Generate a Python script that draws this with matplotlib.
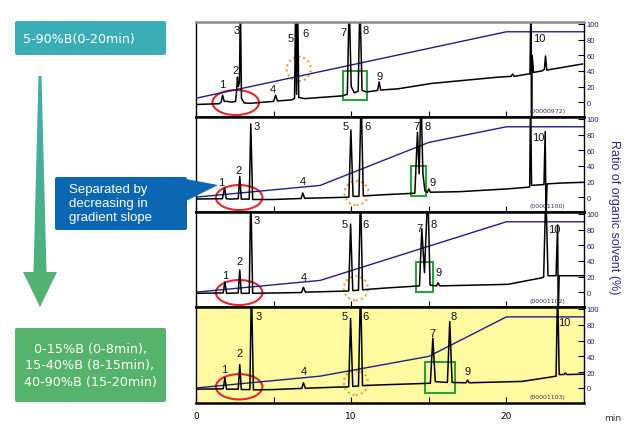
import numpy as np
import matplotlib
matplotlib.use('Agg')
import matplotlib.pyplot as plt
from matplotlib.patches import Ellipse, Rectangle, Polygon, FancyBboxPatch

plt.rcParams['font.family'] = ['DejaVu Sans']

# ---- chromatogram traces (time in min, signal in right-axis units; 130 = off scale)
trace1_t = [0, 1.5, 1.62, 1.71, 1.82, 2.0, 2.3, 2.55, 2.62, 2.67, 2.72, 2.80, 2.86, 2.93, 3.1, 3.5,
            5.0, 5.13, 5.25, 6.2, 6.35, 6.42, 6.48, 6.55, 6.62, 7.0, 9.4, 9.75, 9.87, 10.0, 10.2,
            10.45, 10.56, 10.7, 11.0, 11.7, 11.8, 11.9, 13.0, 15.2, 19.5, 20.3, 20.4, 20.5, 21.4,
            21.52, 21.58, 21.62, 21.66, 21.75, 22.3, 22.45, 22.52, 22.6, 24.9]
trace1_y = [-3, -2, 0, 9, 1, 1, 0, 1, 15, 32, 20, 25, 130, 5, -1, -1.5,
            1, 9, 1.5, 3, 5, 130, 10, 130, 6, 4.5, 8, 10, 130, 20, 12,
            14, 130, 15, 13, 15, 26, 15.5, 17, 24, 32, 33, 36, 33, 36,
            36, 130, -40, 60, 38, 40, 42, 59, 41, 48.8]

trace2_t = [0, 1.7, 1.84, 1.95, 2.2, 2.72, 2.82, 2.92, 3.43, 3.53, 3.65, 5.0, 6.78, 6.88, 7.0,
            9.0, 9.85, 9.98, 10.12, 10.5, 10.64, 10.78, 12, 14.1, 14.27, 14.38, 14.5, 14.62,
            14.75, 14.9, 15.0, 15.1, 17, 20.1, 21.4, 21.5, 21.56, 21.62, 22.3, 22.42, 22.5,
            22.55, 22.62, 23.5, 25]
trace2_y = [-2.4, -2, 12, -2, -2.5, -2, 26.5, -2.5, -2.5, 93.5, -3, -3, -1.7, 5.3, -1.5,
            -0.5, 0, 86, 1, 1, 130, 1.5, 3, 5, 83, 30, 130, 30,
            8, 6, 10.5, 6.3, 7, 10.6, 12.7, 13, 130, 15, 16, 16, 84,
            -30, 17, 18, 19]

trace3_t = [0, 1.75, 1.86, 1.97, 2.72, 2.82, 2.92, 3.43, 3.53, 3.65, 6.8, 6.92, 7.05, 9.0,
            9.84, 9.96, 10.1, 10.47, 10.6, 10.73, 12, 14.4, 14.55, 14.72, 14.94, 15.08, 15.5,
            15.6, 15.7, 18, 20.1, 22.2, 22.4, 22.54, 22.68, 23.2, 23.3, 23.34, 23.4, 25]
trace3_y = [-1.5, -1, 13, -1.5, -1, 28.3, -1.5, -1.5, 130, -1.5, -0.5, 6.2, 0, 1,
            1.5, 87, 2, 2.5, 130, 3, 5, 8, 81, 25, 130, 9, 8,
            12, 8, 9, 10, 18, 19, 130, 21, 21, 86, -30, 21, 21]

trace4_t = [0, 1.75, 1.86, 1.97, 2.72, 2.82, 2.92, 3.47, 3.57, 3.7, 5, 6.82, 6.92, 7.05, 9.0,
            9.84, 9.96, 10.1, 10.47, 10.6, 10.73, 12, 15.1, 15.26, 15.42, 16.2, 16.35, 16.5,
            17.4, 17.5, 17.6, 21, 22.9, 23.2, 23.3, 23.4, 23.7, 23.8, 23.9, 25]
trace4_y = [-1.5, -1, 13, -1.5, -1.5, 29.6, -2, -2, 130, -2.4, -2, -0.5, 6.6, -0.3, 1,
            1.5, 88, 2, 2.5, 130, 3, 4, 6, 63, 8, 7, 84, 7,
            6.6, 10, 6.6, 8.3, 14, 15, 130, 17, 17, 19, 17, 17.5]

# ---- gradient programs (% organic solvent)
grad1_t = [0, 20, 25]
grad1_p = [5, 90, 90]
grad2_t = [0, 8, 15, 20, 25]
grad2_p = [0, 15, 70, 90, 90]
grad3_t = [0, 8, 20, 25]
grad3_p = [0, 15, 90, 90]
grad4_t = [0, 8, 15, 20, 25]
grad4_p = [0, 15, 40, 90, 90]

# ---- peak labels (time, height)
peak_names = ['1', '2', '3', '4', '5', '6', '7', '8', '9', '10']
lab1_t = [1.67, 2.54, 2.65, 4.96, 6.13, 7.03, 9.49, 10.9, 11.82, 22.1]
lab1_y = [23, 41.5, 92.7, 16.8, 81.6, 88.4, 89.3, 92.7, 33.8, 82]
lab2_t = [1.65, 2.73, 3.89, 6.88, 9.66, 11.07, 14.19, 14.91, 15.26, 22.05]
lab2_y = [19.8, 35.2, 90.6, 21, 91.4, 90.6, 91.4, 90.6, 19.8, 76.5]
lab3_t = [1.86, 2.82, 3.89, 6.92, 9.57, 10.93, 14.4, 15.28, 15.6, 23.06]
lab3_y = [22.3, 39.4, 92.7, 19.7, 87, 87, 81.7, 87, 25.4, 80.8]
lab4_t = [1.79, 2.82, 4.04, 6.92, 9.59, 10.93, 15.26, 16.6, 17.48, 23.72]
lab4_y = [24.5, 43.7, 90.6, 21, 90.6, 90.6, 69.3, 90.6, 21, 83.7]

# ---- marked regions: red ellipse (t, y), orange circle (t, y), green box (t0, t1, y0, y1)
red_t = [2.56, 2.78, 2.78, 2.78]
red_y = [-0.5, -0.5, -0.5, 1.5]
orange_t = [6.62, 10.34, 10.3, 10.3]
orange_y = [42.4, 5.3, 4.9, 6.6]
green_box = [(9.44, 11.05, 2.7, 39.4), (13.87, 14.83, 2.0, 40.3),
             (14.15, 15.26, 0.0, 39.0), (14.74, 16.71, -6.6, 32.5)]

sample_ids = ['(00000972)', '(00001100)', '(00001102)', '(00001103)']

traces = [(trace1_t, trace1_y), (trace2_t, trace2_y), (trace3_t, trace3_y), (trace4_t, trace4_y)]
grads = [(grad1_t, grad1_p), (grad2_t, grad2_p), (grad3_t, grad3_p), (grad4_t, grad4_p)]
labels = [(lab1_t, lab1_y), (lab2_t, lab2_y), (lab3_t, lab3_y), (lab4_t, lab4_y)]

W, H = 630, 435
navy = '#1e1e8c'
fig = plt.figure(figsize=(W / 100, H / 100), dpi=100)

tops = [23, 118, 213, 308]
bottoms = [118, 213, 308, 404]
for i in range(4):
    ax = fig.add_axes([196 / W, 1 - bottoms[i] / H, 388 / W, (bottoms[i] - tops[i]) / H])
    ax.set_xlim(0, 25)
    ax.set_ylim(-19, 102.5)
    if i == 3:
        ax.set_facecolor('#fffaa0')
    ax.plot(grads[i][0], grads[i][1], color=navy, lw=1.0)
    ax.plot(traces[i][0], traces[i][1], color='black', lw=1.1)
    for name, t, y in zip(peak_names, labels[i][0], labels[i][1]):
        ax.text(t, y, name, fontsize=8, ha='center', va='center', color='#111111',
                family='Liberation Sans')
    ax.add_patch(Ellipse((red_t[i], red_y[i]), 3.0, 32, fill=False, ec='#e8262a', lw=1.5))
    ax.add_patch(Ellipse((orange_t[i], orange_y[i]), 1.55, 31, fill=False, ec='#f39a3c',
                         lw=1.5, ls=(0, (1, 1.5))))
    t0, t1, y0, y1 = green_box[i]
    ax.add_patch(Rectangle((t0, y0), t1 - t0, y1 - y0, fill=False, ec='#2e9e3e', lw=1.5))
    ax.text(0.905, 0.045, sample_ids[i], transform=ax.transAxes, fontsize=4.5,
            ha='center', va='bottom', color='#333355')

    ax.yaxis.tick_right()
    ax.set_yticks([0, 20, 40, 60, 80, 100])
    ax.tick_params(axis='y', direction='in', length=4, color='black', labelcolor=navy,
                   labelsize=5.5, pad=2)
    for lab in ax.get_yticklabels():
        lab.set_family('Liberation Sans')
    ax.set_xticks([0, 5, 10, 15, 20])
    ax.tick_params(axis='x', direction='in', length=4, labelsize=6.5, pad=6)
    if i == 3:
        ax.set_xticklabels(['0', '', '10', '', '20'])
    else:
        ax.set_xticklabels([])
    for s in ['left', 'right']:
        ax.spines[s].set_linewidth(1.0)
    ax.spines['bottom'].set_linewidth(1.8)
    ax.spines['top'].set_linewidth(1.8)
    if i == 0:
        ax.spines['top'].set_color('#8c8c8c')

fig.text(613 / W, 1 - 419 / H, 'min', fontsize=6.5, ha='center', va='center', color='#333333')
fig.text(614 / W, 1 - 217 / H, 'Ratio of organic solvent (%)', rotation=-90, fontsize=9,
         ha='center', va='center', color='#2a2a9a', family='Liberation Sans')

# ---- overlay for the left annotations, in pixel coordinates
ov = fig.add_axes([0, 0, 1, 1], zorder=5)
ov.set_xlim(0, W)
ov.set_ylim(H, 0)
ov.axis('off')

teal = np.array([0x3b, 0xad, 0xb5]) / 255
green = np.array([0x55, 0xb3, 0x6b]) / 255
ov.add_patch(FancyBboxPatch((15, 22), 151, 34, boxstyle='round,pad=0,rounding_size=2',
                            fc=teal, ec='none'))
ov.text(23, 40, '5-90%B(0-20min)', fontsize=9.1, color='white', ha='left', va='center')

ov.add_patch(FancyBboxPatch((15, 329), 151, 74, boxstyle='round,pad=0,rounding_size=2',
                            fc=green, ec='none'))
ov.text(90, 366, '0-15%B (0-8min),\n15-40%B (8-15min),\n40-90%B (15-20min)', fontsize=9.2,
        color='white', ha='center', va='center', linespacing=1.38)

arrow = Polygon([(38.5, 77), (41.5, 77), (46.5, 273), (57, 273), (40, 308), (23, 273),
                 (33.5, 273)], closed=True, fc='none', ec='none')
ov.add_patch(arrow)
frac = np.linspace(0, 1, 200)[:, None]
grad_img = (teal[None, :] * (1 - frac) + green[None, :] * frac)[:, None, :]
im = ov.imshow(grad_img, extent=(20, 60, 310, 75), origin='upper', aspect='auto',
               interpolation='bilinear')
im.set_clip_path(arrow)

blue = '#0b67b2'
ov.add_patch(FancyBboxPatch((55, 178), 132, 53, boxstyle='round,pad=0,rounding_size=2',
                            fc=blue, ec='none'))
ov.add_patch(Polygon([(186, 180), (186, 202), (218, 186)], closed=True, fc=blue, ec='none'))
ov.text(69, 204, 'Separated by\ndecreasing in\ngradient slope', fontsize=9.5, color='white',
        ha='left', va='center', linespacing=1.18, family='Liberation Sans')
ov.set_xlim(0, W)
ov.set_ylim(H, 0)

fig.savefig('out.png', dpi=100)
